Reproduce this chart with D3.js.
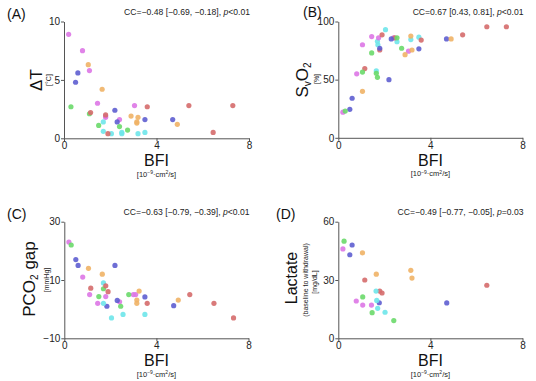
<!DOCTYPE html>
<html><head><meta charset="utf-8">
<script src="https://cdn.jsdelivr.net/npm/d3@7"></script>
<style>
body{margin:0;background:#fff;}
svg{display:block;font-family:"Liberation Sans",Arial,sans-serif;}
</style></head><body>
<svg id="c" width="536" height="381"></svg>
<script>
// ---- data (BFI in 10^-9 cm^2/s) ----
const groups = ["pink","orange","blue","green","cyan","red"];
const colors = ["#dd77e6","#f0b266","#5e5ed0","#6ad96a","#6ee6ea","#d56b6b"];

// Panel A: ΔT [°C]
const aX = [0.2,0.8,1.1,1.45,1.8,1.8,2.4,3.05, 1.05,1.65,2.9,3.2,3.15,3.15,4.9, 0.6,0.5,2.2,2.3,3.5,4.7, 0.3,1.1,1.5,2.4,2.75, 1.7,1.7,2.05,2.5,2.5,3.2,3.5, 1.15,1.8,1.9,3.6,5.4,6.45,7.3];
const aY = [8.9,7.5,5.8,3.0,1.9,1.8,1.6,2.8, 6.3,4.2,1.9,1.8,1.4,1.3,1.2, 5.6,4.8,2.4,1.4,1.6,1.6, 2.7,2.1,1.1,1.0,0.7, 1.4,0.6,0.4,0.5,0.4,0.4,0.5, 2.2,2.0,0.4,2.7,2.8,0.5,2.8];
const aG = [0,0,0,0,0,0,0,0, 1,1,1,1,1,1,1, 2,2,2,2,2,2, 3,3,3,3,3, 4,4,4,4,4,4,4, 5,5,5,5,5,5,5];

// Panel B: SvO2 [%]
const bX = [2.05,1.7,1.72,2.55,3.5,3.15,1.65, 1.45,1.75,1.05,2.4,3.05,0.8,0.2, 1.9,1.8,2.45,3.6,1.15,5.4,6.45,7.3, 1.8,2.3,3.5,2.2,0.6,0.5,4.7, 1.45,2.55,2.75,1.05,1.65,1.7,0.3, 2.9,3.2,3.15,1.05,4.9];
const bY = [93,83,80,82.6,86.5,84.5,57.5, 87,86,80,86,74.5,55,22, 88.5,75.5,86,84,59.5,88.5,95.5,95.5, 77,85,76.5,50,34,24.5,85, 73,86,77,56.5,55.5,52,23, 71.5,75.5,87.5,40,85];
const bG = [4,4,4,4,4,4,4, 0,0,0,0,0,0,0, 5,5,5,5,5,5,5,5, 2,2,2,2,2,2,2, 3,3,3,3,3,3,3, 1,1,1,1,1];

// Panel C: PCO2 gap [mmHg]
const cX = [0.2,0.8,1.1,1.8,1.45,2.4,3.0,3.1, 0.3,1.7,1.5,2.45,2.8, 0.5,0.6,2.2,1.85,2.3,3.5,4.75, 1.05,1.65,3.25,3.15,3.15,4.95, 1.7,1.7,2.05,2.55,3.5, 1.8,1.15,1.9,3.6,5.45,6.5,7.35];
const cY = [23,11,5,4.3,2,2.5,5,5, 22,7,4.3,1,5, 17,15,15,1,3,4.2,1.2, 14,12,6.2,3.1,2,3.1, 9,2,-3,-1.8,-1.8, 8,7.2,6,2,5,2,-3];
const cG = [0,0,0,0,0,0,0,0, 3,3,3,3,3, 2,2,2,2,2,2,2, 1,1,1,1,1,1, 4,4,4,4,4, 5,5,5,5,5,5,5];

// Panel D: Lactate (baseline to withdrawal) [mg/dL]
const dX = [0.25,1.06,1.47,2.41, 0.6,0.5,1.78,4.71, 0.2,0.78,1.06,1.44, 1.05,1.65,3.15,3.2, 1.15,1.8,1.9,6.45, 1.64,1.67,1.71,2.03];
const dY = [50,21.3,13.2,9.1, 48,43,18.3,18.2, 46,19.2,17.1,17.1, 44,33,35,31, 30,24.3,23.3,27.3, 24.3,19.5,15.4,13.4];
const dG = [3,3,3,3, 2,2,2,2, 0,0,0,0, 1,1,1,1, 5,5,5,5, 4,4,4,4];

const xTicks = [0,4,8];
const panels = [
  {id:"(A)", cc:"CC=\u22120.48 [\u22120.69, \u22120.18], ", p:"<0.01", X:aX, Y:aY, G:aG, yDom:[0,10], yTicks:[0,5,10],
   left:64, right:249, top:21.5, bottom:138.3, lx:7, ly:19},
  {id:"(B)", cc:"CC=0.67 [0.43, 0.81], ", p:"<0.01", X:bX, Y:bY, G:bG, yDom:[0,100], yTicks:[0,50,100],
   left:338.3, right:522.5, top:21.5, bottom:137.8, lx:303, ly:16.5},
  {id:"(C)", cc:"CC=\u22120.63 [\u22120.79, \u22120.39], ", p:"<0.01", X:cX, Y:cY, G:cG, yDom:[-10,30], yTicks:[-10,10,30],
   left:64.3, right:248.5, top:221.7, bottom:338.3, lx:7, ly:219},
  {id:"(D)", cc:"CC=\u22120.49 [\u22120.77, \u22120.05], ", p:"=0.03", X:dX, Y:dY, G:dG, yDom:[0,60], yTicks:[0,30,60],
   left:338.3, right:522.5, top:221.7, bottom:338.3, lx:276, ly:219}
];

const svg = d3.select("#c");
const axisCol = "#555";

panels.forEach((P, i) => {
  const g = svg.append("g");
  const x = d3.scaleLinear().domain([0,8]).range([P.left, P.right]);
  const y = d3.scaleLinear().domain(P.yDom).range([P.bottom, P.top]);

  const xa = g.append("g").attr("transform", `translate(0,${P.bottom})`)
    .call(d3.axisBottom(x).tickValues(xTicks).tickSize(3).tickSizeOuter(0).tickPadding(1));
  const ya = g.append("g").attr("transform", `translate(${P.left},0)`)
    .call(d3.axisLeft(y).tickValues(P.yTicks).tickSize(3).tickSizeOuter(0).tickPadding(1));
  [xa, ya].forEach(a => {
    a.select(".domain").attr("stroke", axisCol).attr("stroke-width", 1);
    a.selectAll(".tick line").attr("stroke", axisCol);
    a.selectAll(".tick text").attr("fill", "#222").style("font-size", "10px")
      .style("font-family", '"Liberation Sans",Arial,sans-serif');
  });

  // points
  g.append("g").selectAll("circle").data(P.X.map((v, k) => k)).join("circle")
    .attr("cx", k => x(P.X[k])).attr("cy", k => y(P.Y[k])).attr("r", 2.6)
    .attr("fill", k => colors[P.G[k]]).attr("fill-opacity", 0.9);

  // panel label
  g.append("text").attr("x", P.lx).attr("y", P.ly).attr("font-size", 14).attr("fill", "#111").text(P.id);

  // CC text
  const t = g.append("text").attr("x", P.right + 1).attr("y", P.top - 6.5).attr("text-anchor", "end")
    .attr("font-size", 8.6).attr("fill", "#222");
  t.append("tspan").text(P.cc + " ");
  t.append("tspan").attr("font-style", "italic").text("p");
  t.append("tspan").text(P.p);

  // x title
  const xc = (P.left + P.right) / 2;
  g.append("text").attr("x", xc).attr("y", P.bottom + 28).attr("text-anchor", "middle")
    .attr("font-size", 16).attr("fill", "#111").text("BFI");
  const sx = g.append("text").attr("x", xc).attr("y", P.bottom + 38.5).attr("text-anchor", "middle")
    .attr("font-size", 7.5).attr("fill", "#222");
  sx.append("tspan").text("[10");
  sx.append("tspan").attr("dy", -2.5).attr("font-size", 5).text("\u22129");
  sx.append("tspan").attr("dy", 2.5).text("\u00b7cm");
  sx.append("tspan").attr("dy", -2.5).attr("font-size", 5).text("2");
  sx.append("tspan").attr("dy", 2.5).text("/s]");
});

// y titles
function rot(xp, yp) { return `translate(${xp},${yp}) rotate(-90)`; }
// A
svg.append("text").attr("transform", rot(41.5, 80)).attr("text-anchor", "middle").attr("font-size", 17).attr("fill", "#111").text("\u0394T");
svg.append("text").attr("transform", rot(51, 80)).attr("text-anchor", "middle").attr("font-size", 7).attr("fill", "#222").text("[\u00b0C]");
// B
{
  const t = svg.append("text").attr("transform", rot(308, 80)).attr("text-anchor", "middle").attr("font-size", 17).attr("fill", "#111");
  t.append("tspan").text("S");
  t.append("tspan").attr("font-size", 10).attr("dy", 3).text("v");
  t.append("tspan").attr("dy", -3).text("O");
  t.append("tspan").attr("font-size", 10).attr("dy", 3).text("2");
  svg.append("text").attr("transform", rot(318.5, 79)).attr("text-anchor", "middle").attr("font-size", 7).attr("fill", "#222").text("[%]");
}
// C
{
  const t = svg.append("text").attr("transform", rot(35, 279)).attr("text-anchor", "middle").attr("font-size", 17).attr("fill", "#111");
  t.append("tspan").text("PCO");
  t.append("tspan").attr("font-size", 10).attr("dy", 3).text("2");
  t.append("tspan").attr("dy", -3).text(" gap");
  svg.append("text").attr("transform", rot(48.5, 280)).attr("text-anchor", "middle").attr("font-size", 7).attr("fill", "#222").text("[mmHg]");
}
// D
svg.append("text").attr("transform", rot(297, 278)).attr("text-anchor", "middle").attr("font-size", 16).attr("fill", "#111").text("Lactate");
svg.append("text").attr("transform", rot(308, 280)).attr("text-anchor", "middle").attr("font-size", 7).attr("fill", "#222").text("(baseline to withdrawal)");
svg.append("text").attr("transform", rot(317, 282)).attr("text-anchor", "middle").attr("font-size", 7).attr("fill", "#222").text("[mg/dL]");
</script></body></html>
